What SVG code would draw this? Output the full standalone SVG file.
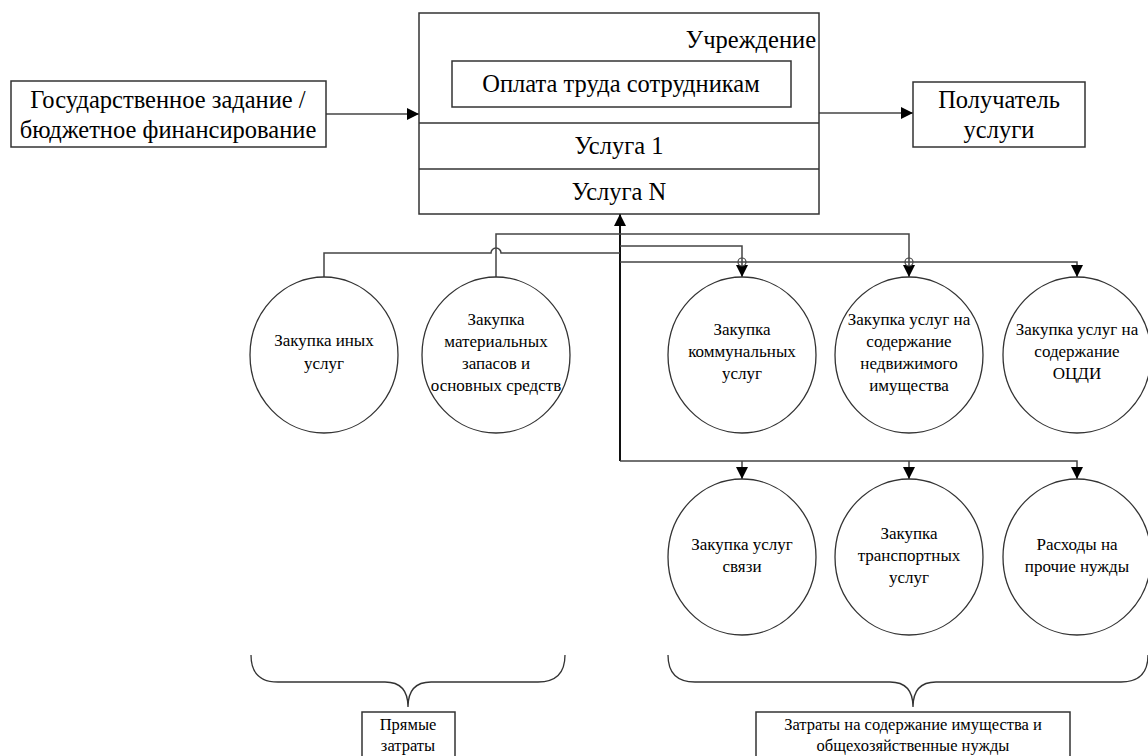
<svg xmlns="http://www.w3.org/2000/svg" width="1148" height="756" viewBox="0 0 1148 756">
<style>
.box{fill:#fff;stroke:#333;stroke-width:1.5}
.ov{fill:#fff;stroke:#333;stroke-width:1.3}
.t{font-family:"Liberation Serif","Times New Roman",serif;fill:#000;text-anchor:middle}
.big{font-size:24.5px}
.sm{font-size:17px}
.lb{font-size:16.5px}
.ln{fill:none;stroke:#444;stroke-width:1.5}
.tr{fill:none;stroke:#111;stroke-width:2}
.br{fill:none;stroke:#333;stroke-width:1.3}
</style>
<defs>
<marker id="ar" markerUnits="userSpaceOnUse" markerWidth="12" markerHeight="12" viewBox="0 0 10 10" refX="10" refY="5" orient="auto">
<path d="M0,0 L10,5 L0,10 z" fill="#000"/>
</marker>
</defs>
<g id="connectors">
<path class="ln" d="M326,114 H419" marker-end="url(#ar)"/>
<path class="ln" d="M819,113 H913" marker-end="url(#ar)"/>
<path class="tr" d="M620,461 V214" marker-end="url(#ar)"/>
<path class="ln" d="M620,461 H1077 V479" marker-end="url(#ar)"/>
<path class="ln" d="M742,461 V479" marker-end="url(#ar)"/>
<path class="ln" d="M909,461 V479" marker-end="url(#ar)"/>
<path class="ln" d="M324,277 V253 H491 A5,5 0 0 1 501,253 H620"/>
<path class="ln" d="M496,277 V234 H909 V277" marker-end="url(#ar)"/>
<path class="ln" d="M620,246 H742 V277" marker-end="url(#ar)"/>
<path class="ln" d="M620,262 H1077 V277" marker-end="url(#ar)"/>
<circle cx="742" cy="262" r="4" fill="#fff" stroke="#444" stroke-width="1.2"/>
<circle cx="909" cy="262" r="4" fill="#fff" stroke="#444" stroke-width="1.2"/>
<path class="ln" d="M738,262 H746 M742,258 V266 M905,262 H913 M909,258 V266" stroke-width="1"/>
</g>
<g id="n-gos">
<rect class="box" x="11" y="81" width="315" height="66"/>
<text class="t big" x="168" y="108">Государственное задание /</text>
<text class="t big" x="168" y="138">бюджетное финансирование</text>
</g>
<g id="n-uchr">
<rect class="box" x="419" y="13" width="400" height="201"/>
<line class="box" x1="419" y1="123" x2="819" y2="123"/>
<line class="box" x1="419" y1="169" x2="819" y2="169"/>
<text class="t big" x="816" y="48" style="text-anchor:end">Учреждение</text>
</g>
<g id="n-opl">
<rect class="box" x="452" y="61" width="339" height="46"/>
<text class="t big" x="621" y="92">Оплата труда сотрудникам</text>
</g>
<g id="n-u1"><text class="t big" x="619" y="154">Услуга 1</text></g>
<g id="n-uN"><text class="t big" x="619" y="200">Услуга N</text></g>
<g id="n-pol">
<rect class="box" x="913" y="82" width="172" height="65"/>
<text class="t big" x="999" y="108">Получатель</text>
<text class="t big" x="999" y="138">услуги</text>
</g>
<g id="c1">
<ellipse class="ov" cx="324" cy="355" rx="74" ry="78"/>
<text class="t sm" x="324" y="346">Закупка иных</text>
<text class="t sm" x="324" y="369">услуг</text>
</g>
<g id="c2">
<ellipse class="ov" cx="496" cy="355" rx="74" ry="78"/>
<text class="t sm" x="496" y="325">Закупка</text>
<text class="t sm" x="496" y="347">материальных</text>
<text class="t sm" x="496" y="369">запасов и</text>
<text class="t sm" x="496" y="391">основных средств</text>
</g>
<g id="c3">
<ellipse class="ov" cx="742" cy="355" rx="74" ry="78"/>
<text class="t sm" x="742" y="335">Закупка</text>
<text class="t sm" x="742" y="357">коммунальных</text>
<text class="t sm" x="742" y="379">услуг</text>
</g>
<g id="c4">
<ellipse class="ov" cx="909" cy="355" rx="74" ry="78"/>
<text class="t sm" x="909" y="325">Закупка услуг на</text>
<text class="t sm" x="909" y="347">содержание</text>
<text class="t sm" x="909" y="369">недвижимого</text>
<text class="t sm" x="909" y="391">имущества</text>
</g>
<g id="c5">
<ellipse class="ov" cx="1077" cy="355" rx="74" ry="78"/>
<text class="t sm" x="1077" y="335">Закупка услуг на</text>
<text class="t sm" x="1077" y="357">содержание</text>
<text class="t sm" x="1077" y="379">ОЦДИ</text>
</g>
<g id="c6">
<ellipse class="ov" cx="742" cy="557" rx="74" ry="78"/>
<text class="t sm" x="742" y="550">Закупка услуг</text>
<text class="t sm" x="742" y="572">связи</text>
</g>
<g id="c7">
<ellipse class="ov" cx="909" cy="557" rx="74" ry="78"/>
<text class="t sm" x="909" y="539">Закупка</text>
<text class="t sm" x="909" y="561">транспортных</text>
<text class="t sm" x="909" y="583">услуг</text>
</g>
<g id="c8">
<ellipse class="ov" cx="1077" cy="557" rx="74" ry="78"/>
<text class="t sm" x="1077" y="550">Расходы на</text>
<text class="t sm" x="1077" y="572">прочие нужды</text>
</g>
<g id="brace1">
<path class="br" d="M251,655 Q251,682 278,682 H385 Q408,682 408,707 Q408,682 431,682 H538 Q565,682 565,655"/>
</g>
<g id="brace2">
<path class="br" d="M668,655 Q668,682 695,682 H890 Q913,682 913,707 Q913,682 936,682 H1121 Q1148,682 1148,655"/>
</g>
<g id="l-pr">
<rect class="box" x="362" y="712" width="93" height="50"/>
<text class="t lb" x="408" y="730">Прямые</text>
<text class="t lb" x="408" y="751">затраты</text>
</g>
<g id="l-zat">
<rect class="box" x="756" y="712" width="314" height="50"/>
<text class="t lb" x="913" y="730">Затраты на содержание имущества и</text>
<text class="t lb" x="913" y="751">общехозяйственные нужды</text>
</g>
</svg>
